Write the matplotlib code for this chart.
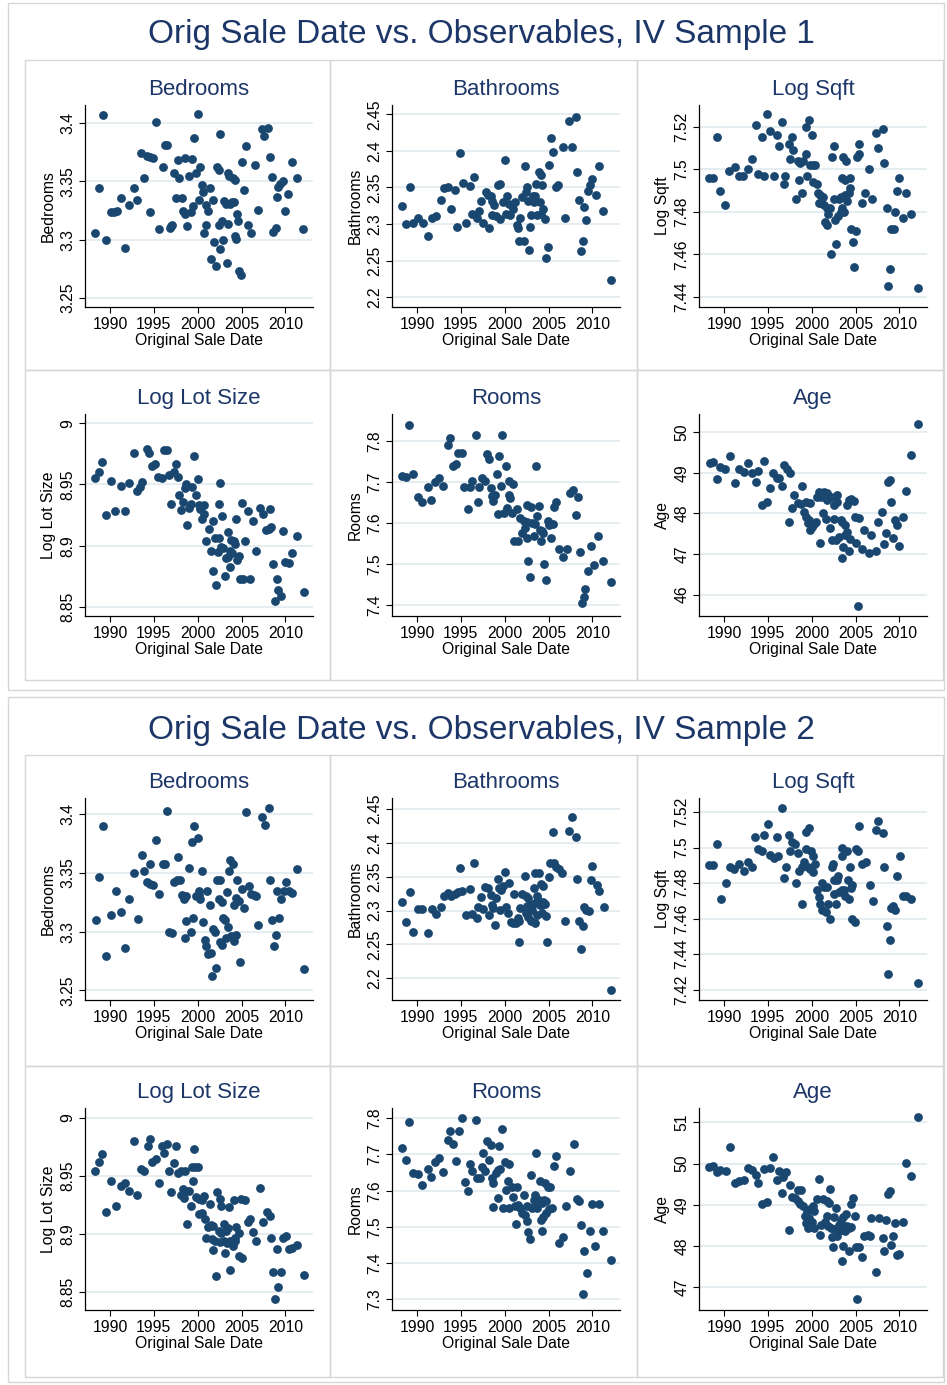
import matplotlib
matplotlib.use("Agg")
import matplotlib.pyplot as plt
import numpy as np

plt.rcParams['font.family'] = ['Liberation Sans', 'DejaVu Sans']

# ---- data: (original sale date, mean value) ----
bedrooms_s1 = [
    (1988.3, 3.306), (1988.7, 3.344), (1989.2, 3.407), (1989.6, 3.300), (1990.1, 3.324), (1990.5, 3.324),
    (1990.8, 3.325), (1991.3, 3.336), (1991.7, 3.293), (1992.2, 3.330), (1992.7, 3.344), (1993.1, 3.334),
    (1993.5, 3.374), (1993.9, 3.353), (1994.2, 3.372), (1994.6, 3.371), (1994.9, 3.370), (1994.6, 3.324),
    (1995.3, 3.401), (1995.6, 3.309), (1996.0, 3.362), (1996.3, 3.381), (1996.5, 3.381), (1996.8, 3.310),
    (1996.9, 3.312), (1997.1, 3.313), (1997.3, 3.357), (1997.5, 3.336), (1997.7, 3.368), (1997.9, 3.353),
    (1998.2, 3.336), (1998.3, 3.325), (1998.5, 3.322), (1998.6, 3.370), (1998.8, 3.312), (1999.0, 3.355),
    (1999.2, 3.324), (1999.4, 3.369), (1999.5, 3.329), (1999.6, 3.387), (1999.8, 3.357), (2000.0, 3.408),
    (2000.2, 3.334), (2000.3, 3.362), (2000.5, 3.347), (2000.6, 3.341), (2000.7, 3.306), (2000.9, 3.313),
    (2001.0, 3.330), (2001.2, 3.325), (2001.4, 3.344), (2001.5, 3.284), (2001.8, 3.334), (2001.9, 3.298),
    (2002.1, 3.278), (2002.2, 3.362), (2002.4, 3.360), (2002.4, 3.313), (2002.6, 3.391), (2002.6, 3.292),
    (2002.8, 3.316), (2002.9, 3.300), (2003.0, 3.333), (2003.2, 3.331), (2003.3, 3.280), (2003.4, 3.357),
    (2003.5, 3.314), (2003.6, 3.355), (2003.7, 3.331), (2003.9, 3.332), (2004.0, 3.353), (2004.1, 3.332),
    (2004.2, 3.303), (2004.3, 3.351), (2004.4, 3.301), (2004.5, 3.322), (2004.6, 3.316), (2004.7, 3.273),
    (2004.9, 3.270), (2005.1, 3.367), (2005.3, 3.343), (2005.5, 3.380), (2005.7, 3.313), (2006.1, 3.306),
    (2006.5, 3.364), (2006.9, 3.326), (2007.3, 3.395), (2007.6, 3.389), (2008.0, 3.396), (2008.3, 3.371),
    (2008.5, 3.354), (2008.6, 3.307), (2008.9, 3.310), (2009.0, 3.337), (2009.2, 3.345), (2009.4, 3.348),
    (2009.7, 3.350), (2010.0, 3.325), (2010.3, 3.339), (2010.7, 3.367), (2011.3, 3.353), (2012.0, 3.309)]

bathrooms_s1 = [
    (1988.3, 2.325), (1988.7, 2.300), (1989.2, 2.350), (1989.6, 2.302), (1990.1, 2.308), (1990.7, 2.302),
    (1991.3, 2.283), (1991.7, 2.308), (1992.2, 2.311), (1992.7, 2.333), (1993.1, 2.349), (1993.5, 2.351),
    (1993.9, 2.320), (1994.3, 2.346), (1994.6, 2.296), (1994.9, 2.397), (1995.2, 2.356), (1995.6, 2.301),
    (1996.0, 2.352), (1996.3, 2.314), (1996.5, 2.365), (1996.8, 2.308), (1997.1, 2.318), (1997.3, 2.331),
    (1997.5, 2.302), (1997.9, 2.344), (1998.1, 2.340), (1998.4, 2.339), (1998.2, 2.295), (1998.6, 2.331),
    (1998.6, 2.313), (1998.8, 2.326), (1999.0, 2.311), (1999.2, 2.353), (1999.5, 2.355), (1999.5, 2.307),
    (1999.8, 2.330), (2000.0, 2.388), (2000.2, 2.314), (2000.3, 2.339), (2000.5, 2.328), (2000.6, 2.313),
    (2000.8, 2.326), (2001.0, 2.321), (2001.2, 2.330), (2001.4, 2.299), (2001.5, 2.295), (2001.6, 2.277),
    (2001.8, 2.308), (2002.0, 2.337), (2002.2, 2.277), (2002.3, 2.379), (2002.4, 2.344), (2002.6, 2.351),
    (2002.7, 2.331), (2002.8, 2.264), (2002.9, 2.296), (2003.0, 2.312), (2003.2, 2.339), (2003.5, 2.339),
    (2003.3, 2.330), (2003.6, 2.355), (2003.7, 2.312), (2003.9, 2.371), (2004.1, 2.367), (2004.0, 2.330),
    (2004.1, 2.314), (2004.3, 2.354), (2004.4, 2.320), (2004.6, 2.307), (2004.7, 2.254), (2004.9, 2.269),
    (2005.1, 2.381), (2005.3, 2.417), (2005.5, 2.398), (2005.8, 2.350), (2006.1, 2.354), (2006.6, 2.405),
    (2006.9, 2.308), (2007.3, 2.441), (2007.7, 2.406), (2008.1, 2.447), (2008.3, 2.371), (2008.5, 2.333),
    (2008.7, 2.263), (2008.9, 2.277), (2009.0, 2.323), (2009.3, 2.305), (2009.5, 2.345), (2009.7, 2.353),
    (2009.9, 2.362), (2010.4, 2.340), (2010.7, 2.379), (2011.2, 2.318), (2012.1, 2.223)]

logsqft_s1 = [
    (1988.3, 7.496), (1988.7, 7.496), (1989.2, 7.515), (1989.6, 7.490), (1990.1, 7.483), (1990.6, 7.499),
    (1991.3, 7.501), (1991.7, 7.497), (1992.2, 7.497), (1992.7, 7.500), (1993.2, 7.505), (1993.6, 7.521),
    (1993.9, 7.498), (1994.3, 7.515), (1994.6, 7.497), (1994.9, 7.526), (1995.3, 7.518), (1995.7, 7.497),
    (1996.0, 7.516), (1996.3, 7.511), (1996.6, 7.522), (1996.8, 7.493), (1997.0, 7.497), (1997.4, 7.512),
    (1997.5, 7.505), (1997.7, 7.515), (1997.9, 7.509), (1998.2, 7.486), (1998.4, 7.504), (1998.7, 7.503),
    (1998.5, 7.495), (1998.9, 7.489), (1999.0, 7.504), (1999.3, 7.507), (1999.3, 7.520), (1999.5, 7.497),
    (1999.7, 7.523), (1999.8, 7.502), (2000.2, 7.502), (2000.4, 7.502), (2000.0, 7.516), (2000.2, 7.494),
    (2000.6, 7.493), (2000.7, 7.489), (2001.0, 7.488), (2001.3, 7.487), (2000.8, 7.484), (2001.1, 7.484),
    (2001.4, 7.483), (2001.7, 7.482), (2001.5, 7.475), (2001.7, 7.474), (2001.9, 7.479), (2002.1, 7.482),
    (2002.2, 7.460), (2002.3, 7.506), (2002.5, 7.486), (2002.6, 7.511), (2002.7, 7.476), (2003.0, 7.478),
    (2003.3, 7.480), (2002.8, 7.465), (2003.1, 7.486), (2003.3, 7.487), (2003.4, 7.482), (2003.7, 7.480),
    (2003.5, 7.496), (2003.8, 7.495), (2003.6, 7.506), (2003.9, 7.504), (2003.8, 7.488), (2004.0, 7.485),
    (2004.2, 7.489), (2004.4, 7.491), (2004.4, 7.496), (2004.5, 7.472), (2004.7, 7.466), (2004.8, 7.454),
    (2005.0, 7.471), (2005.2, 7.506), (2005.4, 7.507), (2005.4, 7.512), (2005.7, 7.484), (2006.1, 7.489),
    (2006.5, 7.500), (2006.9, 7.486), (2007.3, 7.517), (2007.6, 7.510), (2008.1, 7.519), (2008.3, 7.503),
    (2008.6, 7.482), (2008.7, 7.445), (2008.9, 7.453), (2009.0, 7.472), (2009.4, 7.472), (2009.5, 7.480),
    (2009.7, 7.490), (2010.0, 7.496), (2010.4, 7.477), (2010.8, 7.489), (2011.3, 7.479), (2012.1, 7.444)]

loglot_s1 = [
    (1988.3, 8.955), (1988.7, 8.960), (1989.1, 8.968), (1989.6, 8.925), (1990.1, 8.953), (1990.6, 8.928),
    (1991.2, 8.949), (1991.7, 8.928), (1992.2, 8.951), (1992.7, 8.976), (1993.1, 8.945), (1993.4, 8.948),
    (1993.7, 8.952), (1994.2, 8.979), (1994.5, 8.976), (1994.8, 8.965), (1995.1, 8.967), (1995.5, 8.956),
    (1995.9, 8.955), (1996.2, 8.978), (1996.5, 8.978), (1996.7, 8.958), (1997.0, 8.934), (1997.3, 8.960),
    (1997.5, 8.967), (1997.7, 8.956), (1997.9, 8.941), (1998.1, 8.929), (1998.3, 8.936), (1998.5, 8.947),
    (1998.7, 8.950), (1998.8, 8.917), (1999.0, 8.931), (1999.2, 8.934), (1999.4, 8.948), (1999.6, 8.973),
    (1999.8, 8.941), (2000.0, 8.954), (2000.2, 8.933), (2000.5, 8.932), (2000.7, 8.933), (2000.3, 8.930),
    (2000.5, 8.922), (2000.7, 8.926), (2001.0, 8.904), (2001.3, 8.914), (2001.5, 8.896), (2001.7, 8.920),
    (2001.8, 8.879), (2002.0, 8.906), (2002.4, 8.906), (2002.1, 8.868), (2002.3, 8.895), (2002.4, 8.934),
    (2002.5, 8.951), (2002.7, 8.899), (2002.9, 8.898), (2002.8, 8.924), (2003.1, 8.875), (2003.2, 8.890),
    (2003.5, 8.891), (2003.4, 8.911), (2003.7, 8.883), (2003.7, 8.896), (2003.9, 8.894), (2003.8, 8.905),
    (2004.1, 8.904), (2004.3, 8.901), (2004.4, 8.922), (2004.5, 8.888), (2004.7, 8.892), (2004.8, 8.873),
    (2005.2, 8.873), (2005.1, 8.935), (2005.4, 8.904), (2005.7, 8.928), (2006.0, 8.873), (2006.3, 8.920),
    (2006.7, 8.896), (2007.1, 8.931), (2007.5, 8.926), (2007.8, 8.913), (2008.1, 8.914), (2008.3, 8.930),
    (2008.4, 8.915), (2008.6, 8.885), (2008.8, 8.855), (2009.0, 8.873), (2009.2, 8.864), (2009.5, 8.859),
    (2009.7, 8.912), (2010.0, 8.887), (2010.4, 8.886), (2010.7, 8.894), (2011.3, 8.908), (2012.1, 8.862)]

rooms_s1 = [
    (1988.3, 7.715), (1988.7, 7.713), (1989.1, 7.840), (1989.6, 7.719), (1990.1, 7.665), (1990.6, 7.652),
    (1991.2, 7.689), (1991.6, 7.656), (1992.1, 7.701), (1992.5, 7.710), (1993.0, 7.690), (1993.5, 7.790),
    (1993.8, 7.807), (1994.1, 7.740), (1994.4, 7.745), (1994.7, 7.771), (1995.1, 7.771), (1995.4, 7.689),
    (1996.1, 7.689), (1995.8, 7.635), (1996.3, 7.702), (1996.7, 7.816), (1996.9, 7.652), (1997.1, 7.689),
    (1997.4, 7.710), (1997.7, 7.702), (1998.0, 7.768), (1998.2, 7.757), (1998.4, 7.686), (1998.6, 7.667),
    (1998.7, 7.654), (1998.9, 7.669), (1999.1, 7.719), (1999.2, 7.623), (1999.4, 7.763), (1999.6, 7.690),
    (1999.7, 7.814), (1999.9, 7.626), (2000.1, 7.740), (2000.3, 7.638), (2000.5, 7.670), (2000.6, 7.662),
    (2000.5, 7.702), (2001.0, 7.695), (2000.8, 7.624), (2001.1, 7.557), (2001.5, 7.557), (2001.4, 7.634),
    (2001.8, 7.612), (2002.0, 7.576), (2002.2, 7.606), (2002.5, 7.604), (2002.3, 7.588), (2002.5, 7.564),
    (2002.6, 7.644), (2003.0, 7.640), (2002.7, 7.507), (2002.9, 7.469), (2003.1, 7.600), (2003.5, 7.598),
    (2003.3, 7.568), (2003.6, 7.740), (2003.7, 7.618), (2003.9, 7.642), (2004.0, 7.584), (2004.2, 7.580),
    (2004.4, 7.576), (2004.1, 7.557), (2004.5, 7.501), (2004.7, 7.463), (2004.9, 7.606), (2005.1, 7.596),
    (2005.5, 7.598), (2005.3, 7.565), (2005.6, 7.640), (2005.9, 7.651), (2006.2, 7.538), (2007.1, 7.538),
    (2006.7, 7.518), (2007.4, 7.673), (2007.8, 7.681), (2008.1, 7.620), (2008.4, 7.665), (2008.6, 7.531),
    (2008.8, 7.406), (2009.0, 7.420), (2009.2, 7.439), (2009.5, 7.483), (2009.8, 7.544), (2010.2, 7.498),
    (2010.6, 7.569), (2011.2, 7.509), (2012.1, 7.456)]

age_s1 = [
    (1988.4, 49.23), (1988.7, 49.26), (1989.2, 48.85), (1989.6, 49.15), (1990.1, 49.09), (1990.7, 49.42),
    (1991.3, 48.74), (1991.7, 49.09), (1992.3, 49.01), (1992.7, 49.23), (1993.2, 48.99), (1993.6, 48.76),
    (1993.9, 49.05), (1994.3, 48.21), (1994.6, 49.29), (1994.9, 48.29), (1995.3, 48.62), (1995.6, 49.00),
    (1996.0, 48.86), (1996.3, 48.88), (1996.6, 48.68), (1996.8, 49.19), (1997.2, 49.09), (1997.5, 48.99),
    (1997.4, 47.79), (1997.7, 48.14), (1998.0, 48.44), (1998.4, 48.26), (1998.8, 48.23), (1998.9, 48.66),
    (1999.1, 48.04), (1999.4, 47.92), (1999.7, 47.84), (1999.4, 48.27), (1999.8, 48.26), (1999.6, 47.75),
    (1999.8, 47.59), (2000.0, 47.67), (2000.3, 47.74), (2000.5, 47.79), (2000.6, 48.41), (2000.9, 48.49),
    (2001.1, 48.39), (2000.8, 48.53), (2001.4, 48.53), (2001.8, 48.49), (2001.0, 47.26), (2001.3, 48.00),
    (2001.6, 47.85), (2001.8, 48.33), (2002.2, 48.41), (2002.1, 47.63), (2002.3, 47.34), (2002.5, 47.85),
    (2002.6, 48.21), (2002.9, 48.45), (2002.8, 47.34), (2002.9, 48.29), (2003.1, 47.42), (2003.3, 47.84),
    (2003.5, 47.79), (2003.8, 47.71), (2003.4, 46.91), (2003.6, 47.18), (2003.8, 47.47), (2004.0, 47.55),
    (2004.0, 48.21), (2004.2, 48.33), (2004.5, 48.35), (2004.8, 48.31), (2004.3, 47.08), (2004.4, 47.37),
    (2004.9, 47.92), (2005.4, 47.89), (2005.1, 47.26), (2005.3, 45.71), (2005.7, 47.12), (2006.0, 47.59),
    (2006.5, 47.03), (2006.8, 47.47), (2007.3, 47.08), (2007.6, 47.79), (2008.0, 48.04), (2008.3, 47.24),
    (2008.5, 47.51), (2008.7, 48.76), (2008.9, 48.81), (2009.0, 48.27), (2009.3, 47.40), (2009.5, 47.84),
    (2009.7, 47.71), (2010.0, 47.20), (2010.4, 47.92), (2010.8, 48.54), (2011.3, 49.44), (2012.1, 50.21)]

bedrooms_s2 = [
    (1988.4, 3.310), (1988.7, 3.347), (1989.2, 3.390), (1989.6, 3.279), (1990.1, 3.314), (1990.7, 3.335),
    (1991.3, 3.317), (1991.7, 3.286), (1992.2, 3.328), (1992.7, 3.350), (1993.2, 3.311), (1993.6, 3.365),
    (1993.9, 3.352), (1994.2, 3.342), (1994.6, 3.341), (1994.9, 3.340), (1994.6, 3.358), (1995.3, 3.378),
    (1995.6, 3.332), (1996.0, 3.358), (1996.3, 3.358), (1996.5, 3.403), (1996.7, 3.300), (1997.1, 3.299),
    (1997.3, 3.342), (1997.6, 3.344), (1998.0, 3.344), (1997.7, 3.364), (1998.2, 3.331), (1998.4, 3.328),
    (1998.7, 3.330), (1998.5, 3.295), (1998.7, 3.309), (1999.0, 3.354), (1999.2, 3.300), (1999.4, 3.376),
    (1999.5, 3.312), (1999.6, 3.390), (1999.8, 3.330), (2000.1, 3.331), (2000.3, 3.328), (2000.0, 3.380),
    (2000.2, 3.335), (2000.5, 3.352), (2000.6, 3.308), (2000.8, 3.293), (2001.0, 3.288), (2001.1, 3.335),
    (2001.2, 3.281), (2001.5, 3.282), (2001.4, 3.323), (2001.6, 3.262), (2001.8, 3.302), (2002.0, 3.300),
    (2002.1, 3.269), (2002.2, 3.344), (2002.6, 3.344), (2002.4, 3.328), (2002.8, 3.325), (2002.5, 3.291),
    (2002.8, 3.289), (2002.9, 3.312), (2003.1, 3.310), (2003.2, 3.295), (2003.3, 3.334), (2003.5, 3.304),
    (2003.6, 3.352), (2003.7, 3.361), (2004.0, 3.358), (2003.8, 3.296), (2004.1, 3.292), (2004.1, 3.323),
    (2004.4, 3.297), (2004.4, 3.329), (2004.7, 3.326), (2004.5, 3.344), (2004.8, 3.274), (2005.1, 3.336),
    (2005.3, 3.320), (2005.5, 3.402), (2005.8, 3.339), (2006.1, 3.332), (2006.4, 3.331), (2006.6, 3.330),
    (2006.9, 3.306), (2007.3, 3.398), (2007.7, 3.391), (2008.1, 3.405), (2008.3, 3.344), (2008.5, 3.310),
    (2008.7, 3.288), (2008.9, 3.297), (2009.1, 3.335), (2009.3, 3.312), (2009.5, 3.328), (2009.8, 3.335),
    (2010.1, 3.342), (2010.4, 3.335), (2010.8, 3.333), (2011.3, 3.353), (2012.1, 3.268)]

bathrooms_s2 = [
    (1988.3, 2.313), (1988.7, 2.283), (1989.2, 2.328), (1989.6, 2.268), (1990.1, 2.303), (1990.6, 2.302),
    (1991.3, 2.267), (1991.7, 2.303), (1992.2, 2.295), (1992.7, 2.305), (1993.1, 2.321), (1993.5, 2.326),
    (1993.9, 2.322), (1994.3, 2.324), (1994.7, 2.327), (1995.1, 2.329), (1994.9, 2.363), (1995.6, 2.293),
    (1996.0, 2.332), (1996.3, 2.295), (1996.5, 2.370), (1996.8, 2.289), (1997.0, 2.305), (1997.5, 2.303),
    (1997.3, 2.320), (1997.7, 2.335), (1998.1, 2.333), (1998.2, 2.293), (1998.4, 2.323), (1998.6, 2.308),
    (1998.7, 2.304), (1998.9, 2.278), (1999.0, 2.318), (1999.2, 2.346), (1999.4, 2.334), (1999.6, 2.330),
    (1999.5, 2.301), (1999.8, 2.336), (2000.0, 2.357), (2000.2, 2.305), (2000.4, 2.296), (2000.5, 2.340),
    (2000.7, 2.283), (2000.9, 2.281), (2001.3, 2.282), (2001.1, 2.325), (2001.5, 2.289), (2001.6, 2.285),
    (2001.6, 2.253), (2001.8, 2.304), (2002.0, 2.325), (2002.4, 2.322), (2002.7, 2.318), (2002.3, 2.351),
    (2002.4, 2.296), (2002.7, 2.290), (2002.6, 2.306), (2002.9, 2.308), (2003.0, 2.284), (2003.4, 2.282),
    (2003.1, 2.301), (2003.3, 2.333), (2003.5, 2.355), (2003.9, 2.355), (2003.5, 2.311), (2003.8, 2.316),
    (2003.7, 2.321), (2003.7, 2.293), (2004.0, 2.308), (2004.3, 2.308), (2004.1, 2.339), (2004.4, 2.336),
    (2004.3, 2.296), (2004.4, 2.313), (2004.6, 2.309), (2004.7, 2.292), (2004.8, 2.253), (2005.1, 2.350),
    (2005.2, 2.370), (2005.6, 2.370), (2005.9, 2.365), (2005.5, 2.416), (2006.2, 2.361), (2006.5, 2.355),
    (2006.9, 2.285), (2007.3, 2.417), (2007.7, 2.438), (2008.1, 2.408), (2008.3, 2.346), (2008.5, 2.285),
    (2008.7, 2.244), (2008.9, 2.277), (2009.0, 2.305), (2009.3, 2.301), (2009.6, 2.299), (2009.8, 2.345),
    (2010.0, 2.366), (2010.5, 2.338), (2010.8, 2.329), (2011.3, 2.305), (2012.1, 2.183)]

logsqft_s2 = [
    (1988.3, 7.490), (1988.7, 7.490), (1989.2, 7.502), (1989.7, 7.471), (1990.2, 7.480), (1990.7, 7.489),
    (1991.1, 7.488), (1991.7, 7.491), (1992.3, 7.487), (1992.7, 7.492), (1993.2, 7.489), (1993.5, 7.506),
    (1993.9, 7.499), (1994.3, 7.498), (1994.6, 7.507), (1995.0, 7.513), (1995.3, 7.496), (1995.7, 7.494),
    (1996.2, 7.495), (1996.0, 7.506), (1996.6, 7.522), (1996.8, 7.483), (1997.1, 7.489), (1997.4, 7.507),
    (1997.5, 7.498), (1997.8, 7.503), (1998.1, 7.502), (1998.2, 7.480), (1998.4, 7.497), (1998.6, 7.487),
    (1998.9, 7.489), (1999.1, 7.492), (1998.9, 7.468), (1999.3, 7.499), (1999.3, 7.509), (1999.7, 7.511),
    (1999.6, 7.489), (1999.8, 7.488), (1999.9, 7.498), (2000.1, 7.495), (2000.2, 7.486), (2000.4, 7.491),
    (2000.6, 7.476), (2000.8, 7.472), (2001.0, 7.468), (2001.2, 7.480), (2001.2, 7.465), (2001.6, 7.464),
    (2001.4, 7.478), (2001.8, 7.478), (2001.9, 7.468), (2002.1, 7.460), (2002.3, 7.489), (2002.4, 7.491),
    (2002.5, 7.482), (2002.9, 7.482), (2002.6, 7.474), (2002.8, 7.468), (2003.0, 7.484), (2003.1, 7.475),
    (2003.4, 7.476), (2003.7, 7.476), (2003.4, 7.495), (2003.5, 7.500), (2004.0, 7.498), (2003.8, 7.473),
    (2004.1, 7.482), (2004.3, 7.471), (2004.4, 7.489), (2004.5, 7.477), (2004.6, 7.479), (2004.6, 7.460),
    (2004.9, 7.458), (2005.0, 7.499), (2005.3, 7.498), (2005.4, 7.512), (2005.7, 7.491), (2006.2, 7.492),
    (2006.6, 7.479), (2007.0, 7.470), (2007.3, 7.510), (2007.6, 7.515), (2008.1, 7.508), (2008.3, 7.489),
    (2008.6, 7.456), (2008.7, 7.429), (2008.9, 7.448), (2009.0, 7.466), (2009.3, 7.467), (2009.5, 7.465),
    (2009.7, 7.484), (2010.1, 7.495), (2010.4, 7.473), (2010.8, 7.473), (2011.3, 7.471), (2012.1, 7.424)]

loglot_s2 = [
    (1988.3, 8.954), (1988.7, 8.962), (1989.1, 8.969), (1989.6, 8.919), (1990.1, 8.946), (1990.7, 8.924),
    (1991.3, 8.941), (1991.7, 8.944), (1992.2, 8.937), (1992.7, 8.980), (1993.1, 8.934), (1993.5, 8.956),
    (1993.9, 8.954), (1994.3, 8.976), (1994.6, 8.982), (1994.8, 8.962), (1995.2, 8.965), (1995.6, 8.944),
    (1995.9, 8.976), (1996.5, 8.978), (1996.2, 8.970), (1996.7, 8.954), (1997.0, 8.936), (1997.3, 8.961),
    (1997.5, 8.976), (1997.7, 8.953), (1998.1, 8.954), (1998.6, 8.954), (1998.1, 8.934), (1998.4, 8.931),
    (1998.3, 8.939), (1998.7, 8.937), (1999.0, 8.937), (1998.8, 8.909), (1999.2, 8.924), (1999.4, 8.958),
    (1999.7, 8.958), (2000.0, 8.958), (1999.5, 8.946), (1999.6, 8.973), (1999.8, 8.932), (2000.2, 8.930),
    (2000.1, 8.917), (2000.5, 8.918), (2000.5, 8.929), (2000.7, 8.933), (2000.8, 8.913), (2001.0, 8.897),
    (2001.2, 8.906), (2001.5, 8.908), (2001.8, 8.907), (2001.4, 8.926), (2001.6, 8.896), (2002.0, 8.894),
    (2001.8, 8.886), (2002.1, 8.864), (2002.2, 8.936), (2002.5, 8.930), (2002.4, 8.903), (2002.7, 8.901),
    (2002.5, 8.893), (2003.0, 8.894), (2003.3, 8.892), (2002.7, 8.924), (2003.0, 8.909), (2003.1, 8.884),
    (2003.2, 8.903), (2003.5, 8.905), (2003.6, 8.923), (2003.7, 8.869), (2003.7, 8.894), (2004.0, 8.890),
    (2004.3, 8.894), (2004.1, 8.929), (2004.3, 8.897), (2004.4, 8.906), (2004.7, 8.901), (2004.7, 8.881),
    (2005.0, 8.879), (2004.9, 8.930), (2005.4, 8.929), (2005.7, 8.910), (2006.0, 8.913), (2006.3, 8.902),
    (2006.7, 8.894), (2007.1, 8.940), (2007.5, 8.910), (2007.9, 8.919), (2008.3, 8.916), (2008.4, 8.897),
    (2008.6, 8.867), (2008.8, 8.844), (2009.0, 8.887), (2009.2, 8.854), (2009.5, 8.867), (2009.7, 8.897),
    (2010.1, 8.898), (2010.4, 8.887), (2010.8, 8.888), (2011.3, 8.891), (2012.1, 8.865)]

rooms_s2 = [
    (1988.3, 7.719), (1988.7, 7.684), (1989.1, 7.791), (1989.6, 7.650), (1990.1, 7.647), (1990.6, 7.615),
    (1991.2, 7.659), (1991.6, 7.638), (1992.1, 7.678), (1992.5, 7.691), (1993.0, 7.652), (1993.5, 7.741),
    (1993.8, 7.766), (1994.1, 7.730), (1994.4, 7.682), (1994.8, 7.764), (1995.1, 7.800), (1995.5, 7.624),
    (1995.8, 7.600), (1996.1, 7.675), (1996.3, 7.654), (1996.7, 7.794), (1996.8, 7.634), (1997.2, 7.636),
    (1997.5, 7.704), (1997.4, 7.666), (1997.8, 7.654), (1998.0, 7.736), (1998.4, 7.725), (1998.2, 7.684),
    (1998.5, 7.635), (1998.7, 7.620), (1998.7, 7.554), (1999.0, 7.649), (1999.2, 7.656), (1999.5, 7.659),
    (1999.2, 7.579), (1999.4, 7.723), (1999.7, 7.769), (1999.8, 7.551), (2000.0, 7.678), (2000.5, 7.673),
    (2000.2, 7.603), (2000.4, 7.626), (2000.5, 7.551), (2000.8, 7.609), (2001.4, 7.609), (2001.0, 7.583),
    (2001.2, 7.558), (2001.5, 7.561), (2001.3, 7.508), (2001.8, 7.551), (2002.0, 7.538), (2002.3, 7.533),
    (2002.2, 7.588), (2002.5, 7.558), (2002.6, 7.515), (2002.7, 7.485), (2002.9, 7.466), (2003.0, 7.643),
    (2003.1, 7.551), (2003.4, 7.558), (2003.7, 7.551), (2003.3, 7.574), (2003.6, 7.581), (2003.9, 7.574),
    (2003.5, 7.588), (2003.6, 7.705), (2004.0, 7.626), (2004.1, 7.519), (2004.4, 7.528), (2004.7, 7.538),
    (2005.0, 7.549), (2004.2, 7.565), (2004.5, 7.574), (2004.7, 7.571), (2004.3, 7.489), (2004.6, 7.620),
    (2004.9, 7.611), (2005.2, 7.609), (2005.4, 7.551), (2005.6, 7.668), (2005.9, 7.696), (2006.2, 7.457),
    (2006.6, 7.472), (2007.0, 7.558), (2007.5, 7.654), (2007.9, 7.730), (2008.3, 7.576), (2008.5, 7.571),
    (2008.7, 7.504), (2008.9, 7.316), (2009.0, 7.434), (2009.4, 7.373), (2009.7, 7.490), (2009.9, 7.562),
    (2010.7, 7.562), (2010.3, 7.448), (2011.2, 7.489), (2012.1, 7.410)]

age_s2 = [
    (1988.3, 49.92), (1988.7, 49.95), (1989.2, 49.79), (1989.6, 49.85), (1990.2, 49.81), (1990.7, 50.40),
    (1991.3, 49.53), (1991.7, 49.57), (1992.3, 49.60), (1992.7, 49.90), (1993.2, 49.84), (1993.6, 49.73),
    (1993.9, 49.53), (1994.3, 49.01), (1994.9, 49.06), (1994.6, 49.87), (1995.3, 49.90), (1995.6, 50.16),
    (1996.0, 49.60), (1996.3, 49.83), (1996.8, 49.77), (1997.1, 49.79), (1996.6, 49.29), (1996.7, 49.67),
    (1997.4, 48.40), (1997.5, 49.49), (1997.7, 49.19), (1998.1, 49.17), (1998.4, 49.37), (1998.8, 49.35),
    (1998.4, 49.09), (1998.7, 49.01), (1999.0, 48.97), (1999.2, 48.74), (1999.5, 48.86), (1999.3, 48.55),
    (1999.6, 48.44), (1999.7, 48.69), (1999.8, 48.90), (2000.1, 48.98), (2000.0, 48.58), (2000.3, 48.44),
    (2000.3, 48.85), (2000.6, 49.13), (2000.8, 49.63), (2000.9, 48.26), (2001.1, 48.50), (2001.3, 49.13),
    (2001.7, 49.09), (2002.0, 49.05), (2001.5, 48.58), (2001.8, 48.74), (2001.9, 48.48), (2002.1, 49.39),
    (2002.2, 48.44), (2002.5, 48.42), (2002.3, 48.23), (2002.4, 47.98), (2002.6, 48.71), (2002.8, 48.93),
    (2002.9, 48.24), (2003.1, 48.50), (2003.3, 48.60), (2003.6, 48.71), (2003.2, 48.38), (2003.5, 48.40),
    (2003.8, 48.36), (2003.4, 47.64), (2003.6, 48.00), (2003.9, 48.77), (2004.0, 48.48), (2004.3, 48.44),
    (2004.5, 48.47), (2004.2, 47.88), (2004.5, 49.03), (2004.7, 49.17), (2004.9, 48.74), (2005.0, 47.98),
    (2005.4, 47.98), (2005.2, 46.71), (2005.7, 47.74), (2006.0, 48.24), (2006.4, 48.26), (2006.6, 48.24),
    (2006.8, 48.67), (2007.3, 47.38), (2007.7, 48.69), (2008.1, 48.20), (2008.3, 47.88), (2008.5, 48.63),
    (2008.7, 49.27), (2008.9, 49.33), (2009.1, 48.02), (2009.3, 48.24), (2009.5, 48.56), (2009.7, 47.78),
    (2010.0, 47.82), (2010.4, 48.58), (2010.8, 50.02), (2011.3, 49.71), (2012.1, 51.13)]

panel_titles = ["Bedrooms", "Bathrooms", "Log Sqft", "Log Lot Size", "Rooms", "Age"]
sample_titles = ["Orig Sale Date vs. Observables, IV Sample 1",
                 "Orig Sale Date vs. Observables, IV Sample 2"]
x_ticks = [1990, 1995, 2000, 2005, 2010]

samples = [
    [bedrooms_s1, bathrooms_s1, logsqft_s1, loglot_s1, rooms_s1, age_s1],
    [bedrooms_s2, bathrooms_s2, logsqft_s2, loglot_s2, rooms_s2, age_s2],
]
y_ticks = [
    [[3.25, 3.3, 3.35, 3.4], [2.2, 2.25, 2.3, 2.35, 2.4, 2.45], [7.44, 7.46, 7.48, 7.5, 7.52],
     [8.85, 8.9, 8.95, 9], [7.4, 7.5, 7.6, 7.7, 7.8], [46, 47, 48, 49, 50]],
    [[3.25, 3.3, 3.35, 3.4], [2.2, 2.25, 2.3, 2.35, 2.4, 2.45], [7.42, 7.44, 7.46, 7.48, 7.5, 7.52],
     [8.85, 8.9, 8.95, 9], [7.3, 7.4, 7.5, 7.6, 7.7, 7.8], [47, 48, 49, 50, 51]],
]
y_lims = [
    [(3.2425, 3.4155), (2.1865, 2.4628), (7.4353, 7.5302), (8.8427, 9.0074), (7.3742, 7.866), (45.473, 50.444)],
    [(3.2418, 3.4139), (2.168, 2.4661), (7.4142, 7.5279), (8.8346, 9.0086), (7.2707, 7.8283), (46.452, 51.347)],
]

# ---- layout in pixels ----
W, H = 947, 1385
navy = '#1a476f'
title_col = '#1c3668'
grid_col = '#e4ecef'
frame_col = '#d6d6d6'

fig = plt.figure(figsize=(W / 100, H / 100), dpi=100)


def fig_rect(l, t, w, h):
    return [l / W, 1 - (t + h) / H, w / W, h / H]


def frame(l, t, r, b):
    fig.add_artist(plt.Rectangle((l / W, 1 - b / H), (r - l) / W, (b - t) / H,
                                 transform=fig.transFigure, fill=False, ec=frame_col, lw=1))


box_tops = [3, 697]
box_bottoms = [690, 1382]
title_y = [35, 730]
cell_y = [[60, 370, 680], [755, 1066, 1377]]
cell_x = [25, 330, 637, 943]
ax_left = [85, 392, 699]
ax_top = [[105, 414], [798, 1108]]
ax_w, ax_h = 228, 202

for s in range(2):
    frame(8, box_tops[s], 944, box_bottoms[s])
    fig.text(481 / W, 1 - title_y[s] / H, sample_titles[s], ha='center', va='center',
             fontsize=24, color=title_col)
    for r in range(2):
        for c in range(3):
            frame(cell_x[c], cell_y[s][r], cell_x[c + 1], cell_y[s][r + 1])
    for k in range(6):
        r, c = divmod(k, 3)
        ax = fig.add_axes(fig_rect(ax_left[c], ax_top[s][r], ax_w, ax_h))
        pts = np.array(samples[s][k])
        ax.scatter(pts[:, 0], pts[:, 1], s=40, color=navy, linewidths=0, zorder=3)
        ax.set_xlim(1987.15, 2013.15)
        ax.set_ylim(*y_lims[s][k])
        ax.set_xticks(x_ticks)
        ax.set_yticks(y_ticks[s][k])
        ax.set_yticklabels([f"{v:g}" for v in y_ticks[s][k]])
        for lab in ax.get_yticklabels():
            lab.set_rotation(90)
            lab.set_va('center')
        ax.grid(axis='y', color=grid_col, lw=1.3, zorder=0)
        ax.set_axisbelow(True)
        for side in ['top', 'right']:
            ax.spines[side].set_visible(False)
        for side in ['left', 'bottom']:
            ax.spines[side].set_linewidth(0.9)
        ax.tick_params(direction='out', length=4, width=0.8, labelsize=11.3, pad=3)
        ax.set_xlabel("Original Sale Date", fontsize=11.3, labelpad=1)
        ax.set_ylabel(panel_titles[k], fontsize=11.3, labelpad=3)
        ax.set_title(panel_titles[k], fontsize=16, color=title_col, pad=7)

fig.savefig("out.png", dpi=100)
